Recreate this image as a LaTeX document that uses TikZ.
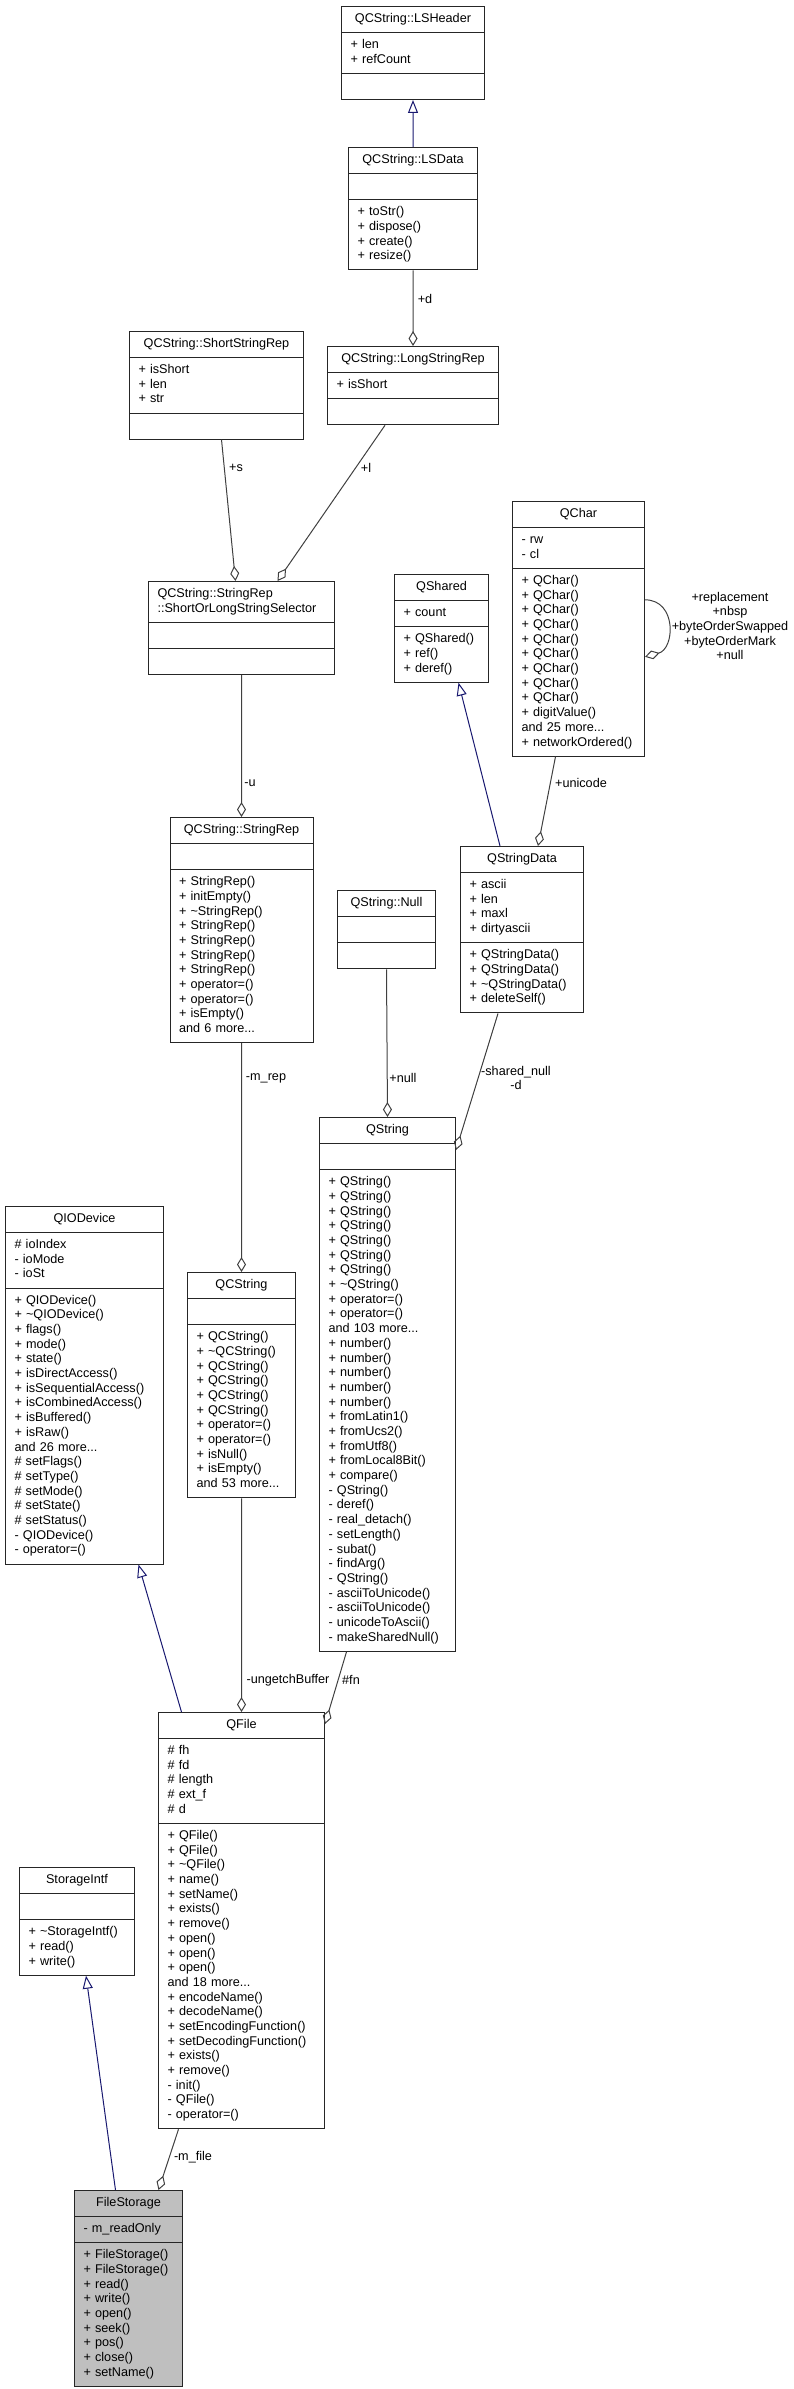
\documentclass[tikz,border=0pt]{standalone}
\usepackage{fontspec}
\setmainfont{Liberation Sans}
\usetikzlibrary{arrows.meta,calc,shapes.multipart}

\definecolor{inhblue}{HTML}{191970}
\definecolor{aggrgray}{HTML}{404040}
\newcommand\umlfont{\fontsize{12.7}{14.75}\selectfont}

\tikzset{
  classbox/.style={rectangle split, rectangle split parts=3, draw=black!85,
    line width=1bp, fill=white, anchor=north west, inner xsep=9bp,
    inner ysep=5.2bp, text width=#1, align=left},
  inherit/.style={draw=inhblue, line width=1bp,
    -{Triangle[open,length=13bp,width=10bp]}},
  aggr/.style={draw=aggrgray, line width=1bp,
    -{Diamond[open,length=15bp,width=9bp]}},
  lbl/.style={inner sep=0pt},
}

\begin{document}
\begin{tikzpicture}[x=1bp,y=-1bp,font=\umlfont]
  \useasboundingbox (0,0) rectangle (794,2389);

  % QCString internals
  \node[classbox=125bp] (lsheader) at (341,6) {\strut\hfill QCString::LSHeader\hfill\strut
    \nodepart{two}\strut + len\\+ refCount\strut
    \nodepart{three}\strut};
  \node[classbox=111bp] (lsdata) at (348,147) {\strut\hfill QCString::LSData\hfill\strut
    \nodepart{two}\strut
    \nodepart{three}\strut + toStr()\\+ dispose()\\+ create()\\+ resize()\strut};
  \node[classbox=156bp] (shortrep) at (129,331) {\strut\hfill QCString::ShortStringRep\hfill\strut
    \nodepart{two}\strut + isShort\\+ len\\+ str\strut
    \nodepart{three}\strut};
  \node[classbox=153bp] (longrep) at (327,346) {\strut\hfill QCString::LongStringRep\hfill\strut
    \nodepart{two}\strut + isShort\strut
    \nodepart{three}\strut};
  \node[classbox=168bp] (selector) at (148,581) {\strut QCString::StringRep\\::ShortOrLongStringSelector\strut
    \nodepart{two}\strut
    \nodepart{three}\strut};
  \node[classbox=125bp] (stringrep) at (169.5,817) {\strut\hfill QCString::StringRep\hfill\strut
    \nodepart{two}\strut
    \nodepart{three}\strut + StringRep()\\+ initEmpty()\\+ \textasciitilde StringRep()\\+ StringRep()\\+ StringRep()\\+ StringRep()\\+ StringRep()\\+ operator=()\\+ operator=()\\+ isEmpty()\\and 6 more...\strut};
  \node[classbox=90bp] (qcstring) at (187,1272) {\strut\hfill QCString\hfill\strut
    \nodepart{two}\strut
    \nodepart{three}\strut + QCString()\\+ \textasciitilde QCString()\\+ QCString()\\+ QCString()\\+ QCString()\\+ QCString()\\+ operator=()\\+ operator=()\\+ isNull()\\+ isEmpty()\\and 53 more...\strut};

  % QString side
  \node[classbox=76bp] (qshared) at (394,574) {\strut\hfill QShared\hfill\strut
    \nodepart{two}\strut + count\strut
    \nodepart{three}\strut + QShared()\\+ ref()\\+ deref()\strut};
  \node[classbox=114bp] (qchar) at (512,501) {\strut\hfill QChar\hfill\strut
    \nodepart{two}\strut - rw\\- cl\strut
    \nodepart{three}\strut + QChar()\\+ QChar()\\+ QChar()\\+ QChar()\\+ QChar()\\+ QChar()\\+ QChar()\\+ QChar()\\+ QChar()\\+ digitValue()\\and 25 more...\\+ networkOrdered()\strut};
  \node[classbox=105bp] (qstringdata) at (460,846) {\strut\hfill QStringData\hfill\strut
    \nodepart{two}\strut + ascii\\+ len\\+ maxl\\+ dirtyascii\strut
    \nodepart{three}\strut + QStringData()\\+ QStringData()\\+ \textasciitilde QStringData()\\+ deleteSelf()\strut};
  \node[classbox=80bp] (qstringnull) at (337,890) {\strut\hfill QString::Null\hfill\strut
    \nodepart{two}\strut
    \nodepart{three}\strut};
  \node[classbox=118bp] (qstring) at (319,1117) {\strut\hfill QString\hfill\strut
    \nodepart{two}\strut
    \nodepart{three}\strut + QString()\\+ QString()\\+ QString()\\+ QString()\\+ QString()\\+ QString()\\+ QString()\\+ \textasciitilde QString()\\+ operator=()\\+ operator=()\\and 103 more...\\+ number()\\+ number()\\+ number()\\+ number()\\+ number()\\+ fromLatin1()\\+ fromUcs2()\\+ fromUtf8()\\+ fromLocal8Bit()\\+ compare()\\- QString()\\- deref()\\- real\_detach()\\- setLength()\\- subat()\\- findArg()\\- QString()\\- asciiToUnicode()\\- asciiToUnicode()\\- unicodeToAscii()\\- makeSharedNull()\strut};

  % file classes
  \node[classbox=140bp] (qiodevice) at (5,1206) {\strut\hfill QIODevice\hfill\strut
    \nodepart{two}\strut \# ioIndex\\- ioMode\\- ioSt\strut
    \nodepart{three}\strut + QIODevice()\\+ \textasciitilde QIODevice()\\+ flags()\\+ mode()\\+ state()\\+ isDirectAccess()\\+ isSequentialAccess()\\+ isCombinedAccess()\\+ isBuffered()\\+ isRaw()\\and 26 more...\\\# setFlags()\\\# setType()\\\# setMode()\\\# setState()\\\# setStatus()\\- QIODevice()\\- operator=()\strut};
  \node[classbox=148bp] (qfile) at (158,1712) {\strut\hfill QFile\hfill\strut
    \nodepart{two}\strut \# fh\\\# fd\\\# length\\\# ext\_f\\\# d\strut
    \nodepart{three}\strut + QFile()\\+ QFile()\\+ \textasciitilde QFile()\\+ name()\\+ setName()\\+ exists()\\+ remove()\\+ open()\\+ open()\\+ open()\\and 18 more...\\+ encodeName()\\+ decodeName()\\+ setEncodingFunction()\\+ setDecodingFunction()\\+ exists()\\+ remove()\\- init()\\- QFile()\\- operator=()\strut};
  \node[classbox=97bp] (storageintf) at (19,1867) {\strut\hfill StorageIntf\hfill\strut
    \nodepart{two}\strut
    \nodepart{three}\strut + \textasciitilde StorageIntf()\\+ read()\\+ write()\strut};
  \node[classbox=90bp, fill=black!25] (filestorage) at (74,2190) {\strut\hfill FileStorage\hfill\strut
    \nodepart{two}\strut - m\_readOnly\strut
    \nodepart{three}\strut + FileStorage()\\+ FileStorage()\\+ read()\\+ write()\\+ open()\\+ seek()\\+ pos()\\+ close()\\+ setName()\strut};

  % inheritance
  \draw[inherit] (lsdata.north) -- (lsheader.south);
  \draw[inherit] ($(qstringdata.north)+(-22,0)$) -- ($(qshared.south)+(17,0)$);
  \draw[inherit] ($(qfile.north)+(-60,0)$) -- ($(qiodevice.south)+(54,0)$);
  \draw[inherit] ($(filestorage.north)+(-13,0)$) -- ($(storageintf.south)+(9,0)$);

  % aggregation
  \draw[aggr] (lsdata.south) -- (longrep.north);
  \draw[aggr] ($(shortrep.south)+(5,0)$) -- ($(selector.north)+(-6,0)$);
  \draw[aggr] ($(longrep.south)+(-28,0)$) -- ($(selector.north)+(36,0)$);
  \draw[aggr] (selector.south) -- (stringrep.north);
  \draw[aggr] ($(qchar.south)+(-23,0)$) -- ($(qstringdata.north)+(16,0)$);
  \draw[aggr] ($(qchar.east)+(0,-29)$) .. controls +(32,0) and +(30,-8) .. ($(qchar.east)+(0,28)$);
  \draw[aggr] (stringrep.south) -- (qcstring.north);
  \draw[aggr] (qstringnull.south) -- (qstring.north);
  \draw[aggr] ($(qstringdata.south)+(-24,0)$) -- ($(qstring.north east)+(0,33)$);
  \draw[aggr] (qcstring.south) -- (qfile.north);
  \draw[aggr] ($(qstring.south)+(-41,0)$) -- ($(qfile.north east)+(0,12)$);
  \draw[aggr] ($(qfile.south)+(-63,0)$) -- ($(filestorage.north)+(30,0)$);

  % edge labels
  \node[lbl] (ld) at (425,299) {+d};
  \node[lbl] (ls) at (236,468) {+s};
  \node[lbl] (ll) at (366,468) {+l};
  \node[lbl] (lu) at (250,783) {-u};
  \node[lbl] (lunicode) at (581,783) {+unicode};
  \node[lbl, align=center] (lqchar) at (730,626) {+replacement\\+nbsp\\+byteOrderSwapped\\+byteOrderMark\\+null};
  \node[lbl] (lmrep) at (266,1078) {-m\_rep};
  \node[lbl] (lnull) at (403,1078) {+null};
  \node[lbl, align=center] (lshared) at (516,1078) {-shared\_null\\-d};
  \node[lbl] (lunget) at (288,1680) {-ungetchBuffer};
  \node[lbl] (lfn) at (351,1680) {\#fn};
  \node[lbl] (lmfile) at (193,2157) {-m\_file};

\end{tikzpicture}
\end{document}
